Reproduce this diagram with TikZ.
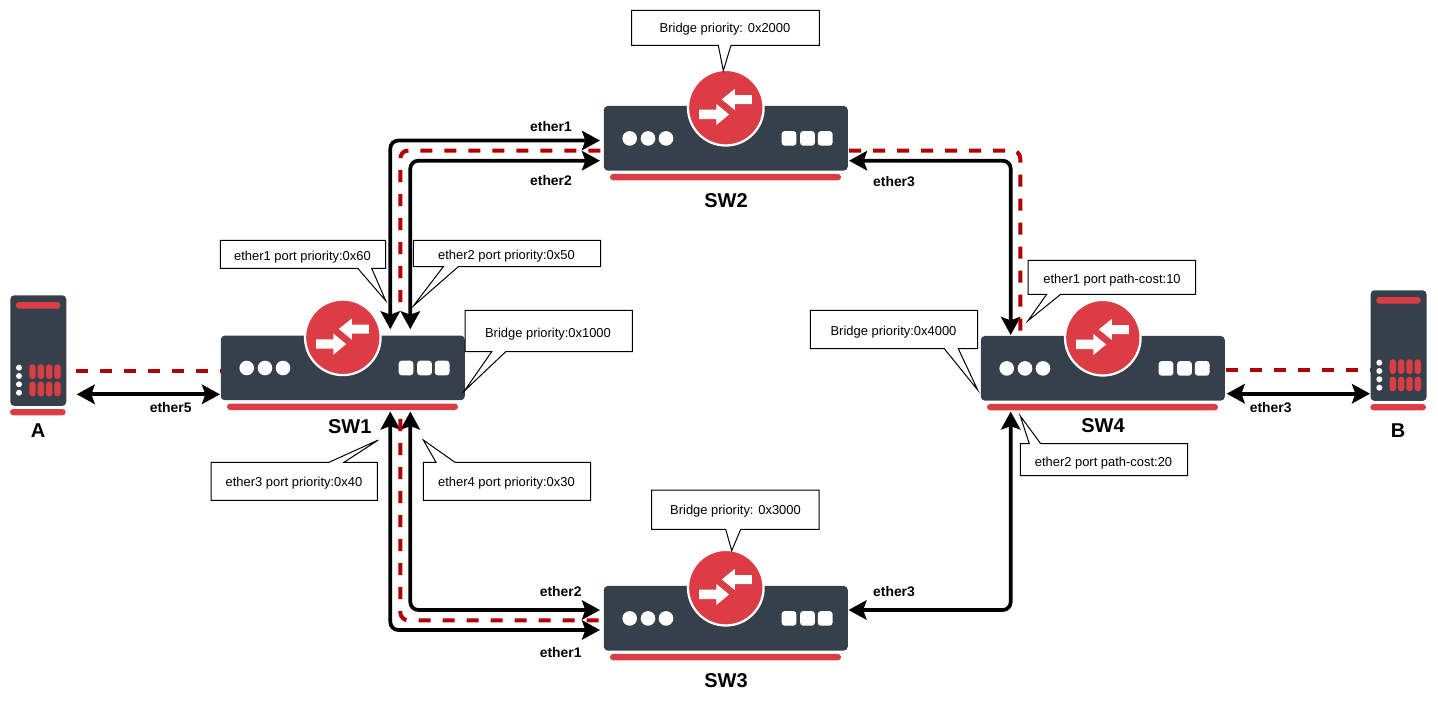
\documentclass[tikz,border=0pt]{standalone}
\usepackage{fontspec}
\setmainfont{Liberation Sans}
\usepackage{xcolor}
\usepackage{tikz}
\usetikzlibrary{arrows.meta}
\definecolor{devdark}{HTML}{36404A}
\definecolor{devred}{HTML}{DC3D45}
\definecolor{pathred}{HTML}{B20000}

\begin{document}
\begin{tikzpicture}[x=0.75pt,y=-0.75pt,>={Stealth[length=13.5pt,width=14.5pt,inset=2.5pt]}]
\tikzstyle{link}=[<->,black,line width=2.8pt,rounded corners=6pt]
\tikzstyle{stp}=[pathred,line width=3pt,dash pattern=on 9pt off 9pt,rounded corners=6pt]
\tikzstyle{callout}=[draw=black,fill=white,line width=0.75pt,line join=miter]
\tikzstyle{note}=[inner sep=0pt,yshift=-1.2pt,font=\fontsize{9.7}{11}\selectfont]
\tikzstyle{port}=[inner sep=0pt,yshift=-0.4pt,font=\fontsize{10.4}{12}\selectfont\bfseries]
\tikzstyle{devname}=[inner sep=0pt,font=\fontsize{15}{18}\selectfont\bfseries]
\tikzstyle{swbody}=[anchor=north west,fill=devdark,rounded corners=3pt,inner sep=0pt,minimum width=183pt,minimum height=48.5pt]
\tikzstyle{srvbody}=[anchor=north west,fill=devdark,rounded corners=3pt,inner sep=0pt,minimum width=42pt,minimum height=83pt]

\useasboundingbox (0,0) rectangle (1438,703);

% port ends
\coordinate (sw1n1) at (390.3,329.3);
\coordinate (sw1n2) at (410.3,329.3);
\coordinate (sw1s1) at (390.3,411.5);
\coordinate (sw1s2) at (410.3,411.5);
\coordinate (sw1w) at (220,394.3);
\coordinate (sw2w1) at (600,140.5);
\coordinate (sw2w2) at (600,160.7);
\coordinate (sw2e) at (849,160.7);
\coordinate (sw3w1) at (600,630);
\coordinate (sw3w2) at (600,610);
\coordinate (sw3e) at (848.5,610);
\coordinate (sw4n) at (1010.7,335);
\coordinate (sw4s) at (1010.7,411.5);
\coordinate (sw4e) at (1226.7,393.7);
\coordinate (hosta) at (76.7,394.3);
\coordinate (hostb) at (1370,393.7);

% links
\draw [link] (sw1n1) |- (sw2w1);
\draw [link] (sw1n2) |- (sw2w2);
\draw [link] (sw1s1) |- (sw3w1);
\draw [link] (sw1s2) |- (sw3w2);
\draw [link] (sw2e) -| (sw4n);
\draw [link] (sw3e) -| (sw4s);
\draw [<->,line width=2.8pt] (hosta) -- (sw1w);
\draw [<->,line width=2.8pt] (sw4e) -- (hostb);

% active path
\coordinate (pa) at (76,371);
\coordinate (pb) at (220.5,371);
\coordinate (pc) at (400.3,302);
\coordinate (pd) at (603.5,150.5);
\coordinate (pe) at (849,150.5);
\coordinate (pf) at (1020.3,335);
\coordinate (pg) at (400.3,419);
\coordinate (ph) at (603.5,620.3);
\coordinate (pi) at (1226,370.3);
\coordinate (pj) at (1370.3,370.3);
\draw [stp] (pa) -- (pb);
\draw [stp] (pc) |- (pd);
\draw [stp] (pe) -| (pf);
\draw [stp] (pg) |- (ph);
\draw [stp] (pi) -- (pj);

% switches
\foreach \swname/\swx/\swy in {sw1/220.5/335.3,sw2/603.5/105.7,sw3/603.5/585.7,sw4/980.5/335.7} {
\begin{scope}[shift={(\swx,\swy)}]
\node (\swname) [swbody] at (0,0) {};
\fill [devred,rounded corners=2.4pt] (6.5,68.2) rectangle (237.5,74.7);
\filldraw [fill=devred,draw=white,line width=1.7pt] (122.3,2) circle [radius=37.8];
\fill [white] (148.3,-10.7) -- (131.3,-10.7) -- (131.3,-16.7) -- (118.3,-6.3) -- (131.3,4.3) -- (131.3,-1.7) -- (148.3,-1.7) -- cycle;
\fill [white] (95.6,4) -- (112.9,4) -- (112.9,-1.7) -- (125.6,8.8) -- (112.9,19.3) -- (112.9,13.3) -- (95.6,13.3) -- cycle;
\foreach \dx in {26.2,44.5,62.5} {
  \fill [white] (\dx,32.7) circle [radius=7.3];
}
\foreach \dx in {185.5,204,221.7} {
  \fill [white,rounded corners=2.2pt] (\dx-7.3,25.4) rectangle (\dx+7.3,40);
}
\end{scope}
}

% hosts
\foreach \hostname/\hx/\hy in {srva/10/295,srvb/1370.3/290} {
\begin{scope}[shift={(\hx,\hy)}]
\node (\hostname) [srvbody] at (0,0) {};
\fill [devred,rounded corners=2.2pt] (6,7) rectangle (50.3,13.7);
\fill [devred,rounded corners=2.4pt] (0,114) rectangle (55.7,120.3);
\foreach \dy in {72.7,81,89.3,97.7} {
  \fill [white] (9,\dy) circle [radius=3];
}
\foreach \dx in {19.3,27.7,36,44.3} {
  \fill [devred,rounded corners=2.2pt] (\dx,69.3) rectangle (\dx+6.4,84);
  \fill [devred,rounded corners=2.2pt] (\dx,86.7) rectangle (\dx+6.4,101.3);
}
\end{scope}
}

% callouts
\draw [callout] (220.3,240.3) -- (385.7,240.3) -- (385.7,268.3) -- (371.7,268.3) -- (385.7,300.7) -- (357.7,268.3) -- (220.3,268.3) -- cycle;
\node (prio1) [note] at (302.5,255.5) {ether1 port priority:0x60};
\draw [callout] (413.3,240.3) -- (600.7,240.3) -- (600.7,266.7) -- (458.3,266.7) -- (413.3,306) -- (443.3,266.7) -- (413.3,266.7) -- cycle;
\node (prio2) [note] at (506.5,254.7) {ether2 port priority:0x50};
\draw [callout] (211,462.3) -- (329,462.3) -- (378.3,440) -- (344,462.3) -- (377.3,462.3) -- (377.3,500.3) -- (211,500.3) -- cycle;
\node (prio3) [note] at (294,481.5) {ether3 port priority:0x40};
\draw [callout] (423.3,462.3) -- (436,462.3) -- (423.3,440) -- (455,462.3) -- (590.7,462.3) -- (590.7,500.3) -- (423.3,500.3) -- cycle;
\node (prio4) [note] at (506.5,481.5) {ether4 port priority:0x30};
\draw [callout] (465,310.3) -- (632.3,310.3) -- (632.3,351.7) -- (505.7,351.7) -- (464.3,391) -- (491.7,351.7) -- (465,351.7) -- cycle;
\node (br1) [note] at (548,332.5) {Bridge priority:0x1000};
\draw [callout] (631.7,10.3) -- (819.3,10.3) -- (819.3,45.3) -- (731,45.3) -- (723.3,70.7) -- (718.3,45.3) -- (631.7,45.3) -- cycle;
\node (br2) [note] at (725,28) {Bridge priority: 0x2000};
\draw [callout] (651.7,490) -- (819,490) -- (819,529.3) -- (740.7,529.3) -- (731.7,550.7) -- (725.7,529.3) -- (651.7,529.3) -- cycle;
\node (br3) [note] at (735.5,509.5) {Bridge priority: 0x3000};
\draw [callout] (810.3,310.3) -- (977.7,310.3) -- (977.7,348.7) -- (958.3,348.7) -- (977.7,390) -- (944.3,348.7) -- (810.3,348.7) -- cycle;
\node (br4) [note] at (893.5,330.5) {Bridge priority:0x4000};
\draw [callout] (1028,260.3) -- (1195.7,260.3) -- (1195.7,294.3) -- (1060.7,294.3) -- (1028,320.7) -- (1046.7,294.3) -- (1028,294.3) -- cycle;
\node (cost1) [note] at (1112,279) {ether1 port path-cost:10};
\draw [callout] (1020.3,443.7) -- (1029.3,443.7) -- (1020.3,416) -- (1040.7,443.7) -- (1187.7,443.7) -- (1187.7,475.7) -- (1020.3,475.7) -- cycle;
\node (cost2) [note] at (1103.5,461.5) {ether2 port path-cost:20};

% port labels
\node (l1) [port] at (551,126) {ether1};
\node (l2) [port] at (551,180.5) {ether2};
\node (l3) [port] at (894,181) {ether3};
\node (l4) [port] at (560.7,591.3) {ether2};
\node (l5) [port] at (560.7,652.3) {ether1};
\node (l6) [port] at (894,591) {ether3};
\node (l7) [port] at (170.7,406.7) {ether5};
\node (l8) [port] at (1270.7,406.7) {ether3};

% device names
\node (n1) [devname] at (349.7,426.3) {SW1};
\node (n2) [devname] at (726,201) {SW2};
\node (n3) [devname] at (726,681) {SW3};
\node (n4) [devname] at (1103,426) {SW4};
\node (na) [devname] at (38,431) {A};
\node (nb) [devname] at (1398,431) {B};
\end{tikzpicture}
\end{document}
